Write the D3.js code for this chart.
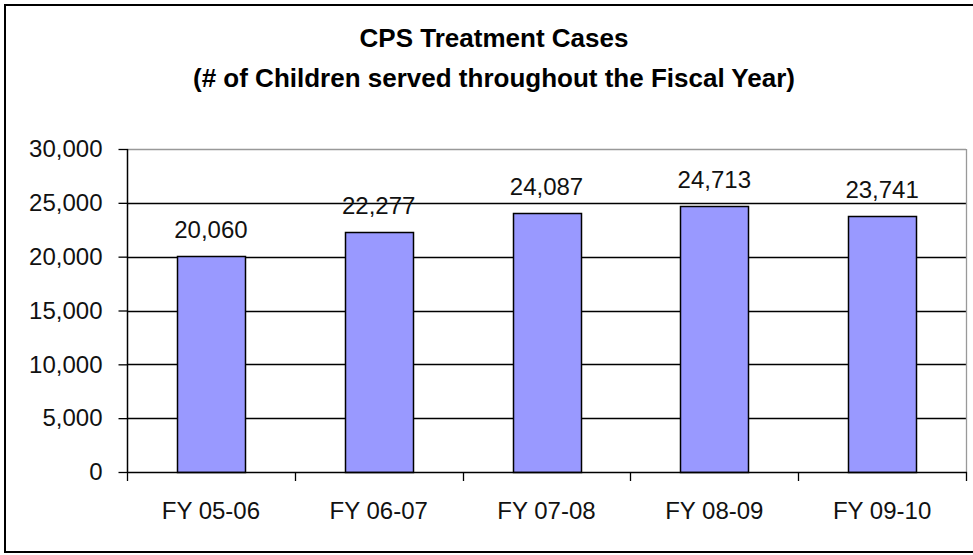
<!DOCTYPE html>
<html lang="en">
<head>
    <meta charset="UTF-8">
    <title>CPS Treatment Cases</title>
    <script src="https://d3js.org/d3.v7.min.js"></script>
    <style>
        body { margin: 0; background: #fff; }
        svg { display: block; font-family: Arial, "Liberation Sans", sans-serif; }
    </style>
</head>
<body>
    <div id="chart"></div>
    <script>
        // Data
        const categories = ["FY 05-06", "FY 06-07", "FY 07-08", "FY 08-09", "FY 09-10"];
        const cases = [20060, 22277, 24087, 24713, 23741];
        const yTicks = [0, 5000, 10000, 15000, 20000, 25000, 30000];
        const titleLines = ["CPS Treatment Cases", "(# of Children served throughout the Fiscal Year)"];

        const W = 973, H = 555;
        const plot = {left: 127, right: 966, top: 149, bottom: 472};

        const svg = d3.select("#chart")
            .append("svg")
            .attr("width", W)
            .attr("height", H);

        // Outer chart border
        svg.append("rect")
            .attr("x", 5).attr("y", 5)
            .attr("width", W + 10).attr("height", 547)
            .attr("fill", "none")
            .attr("stroke", "#000")
            .attr("stroke-width", 2);

        // Title
        svg.append("g")
            .selectAll("text")
            .data(titleLines)
            .enter()
            .append("text")
            .attr("x", 494)
            .attr("y", (d, i) => 47 + i * 40)
            .attr("text-anchor", "middle")
            .attr("font-size", 26)
            .attr("font-weight", "bold")
            .attr("fill", "#000")
            .text(d => d);

        // Scales
        const x = d3.scaleBand()
            .domain(categories)
            .range([plot.left, plot.right])
            .paddingInner(0.595)
            .paddingOuter(0.2975);

        const slot = d3.scaleBand()
            .domain(categories)
            .range([plot.left, plot.right]);

        const y = d3.scaleLinear()
            .domain([0, 30000])
            .range([plot.bottom, plot.top]);

        // Gridlines
        svg.append("g")
            .selectAll("line")
            .data(yTicks.filter(t => t > 0))
            .enter()
            .append("line")
            .attr("x1", plot.left).attr("x2", plot.right)
            .attr("y1", d => Math.round(y(d)) + 0.5)
            .attr("y2", d => Math.round(y(d)) + 0.5)
            .attr("stroke", d => d === 30000 ? "#999" : "#000")
            .attr("stroke-width", 1.3);

        // Plot area right border (gray)
        svg.append("line")
            .attr("x1", plot.right + 0.5).attr("x2", plot.right + 0.5)
            .attr("y1", plot.top).attr("y2", plot.bottom)
            .attr("stroke", "#999")
            .attr("stroke-width", 1.3);

        // Bars
        svg.append("g")
            .selectAll("rect")
            .data(cases)
            .enter()
            .append("rect")
            .attr("x", (d, i) => Math.round(x(categories[i])) + 0.5)
            .attr("y", d => Math.round(y(d)) + 0.5)
            .attr("width", Math.round(x.bandwidth()))
            .attr("height", d => Math.round(y(0)) - Math.round(y(d)))
            .attr("fill", "#9999ff")
            .attr("stroke", "#000")
            .attr("stroke-width", 1.5);

        // Value labels
        svg.append("g")
            .selectAll("text")
            .data(cases)
            .enter()
            .append("text")
            .attr("x", (d, i) => x(categories[i]) + x.bandwidth() / 2)
            .attr("y", d => y(d) - 18)
            .attr("text-anchor", "middle")
            .attr("font-size", 24)
            .attr("fill", "#111")
            .text(d => d3.format(",")(d));

        // Y axis
        const yAxis = svg.append("g")
            .attr("transform", `translate(${plot.left + 0.5},0)`)
            .call(d3.axisLeft(y)
                .tickValues(yTicks)
                .tickFormat(d3.format(","))
                .tickSize(9)
                .tickPadding(16));
        yAxis.select(".domain").remove();
        yAxis.selectAll(".tick line").attr("stroke", "#000").attr("stroke-width", 1.3);
        yAxis.selectAll(".tick text")
            .attr("font-size", 24)
            .attr("font-family", "Arial, 'Liberation Sans', sans-serif")
            .attr("fill", "#111");
        svg.append("line")
            .attr("x1", plot.left + 0.5).attr("x2", plot.left + 0.5)
            .attr("y1", plot.top).attr("y2", plot.bottom + 1)
            .attr("stroke", "#000").attr("stroke-width", 1.5);

        // X axis: line, boundary ticks, labels
        svg.append("line")
            .attr("x1", plot.left).attr("x2", plot.right + 1)
            .attr("y1", plot.bottom + 0.5).attr("y2", plot.bottom + 0.5)
            .attr("stroke", "#000").attr("stroke-width", 1.5);

        const bounds = categories.map(c => slot(c)).concat([plot.right]);
        svg.append("g")
            .selectAll("line")
            .data(bounds)
            .enter()
            .append("line")
            .attr("x1", d => Math.round(d) + 0.5).attr("x2", d => Math.round(d) + 0.5)
            .attr("y1", plot.bottom).attr("y2", plot.bottom + 9)
            .attr("stroke", "#000").attr("stroke-width", 1.3);

        svg.append("g")
            .selectAll("text")
            .data(categories)
            .enter()
            .append("text")
            .attr("x", d => slot(d) + slot.bandwidth() / 2)
            .attr("y", 519)
            .attr("text-anchor", "middle")
            .attr("font-size", 24)
            .attr("fill", "#111")
            .text(d => d);
    </script>
</body>
</html>
